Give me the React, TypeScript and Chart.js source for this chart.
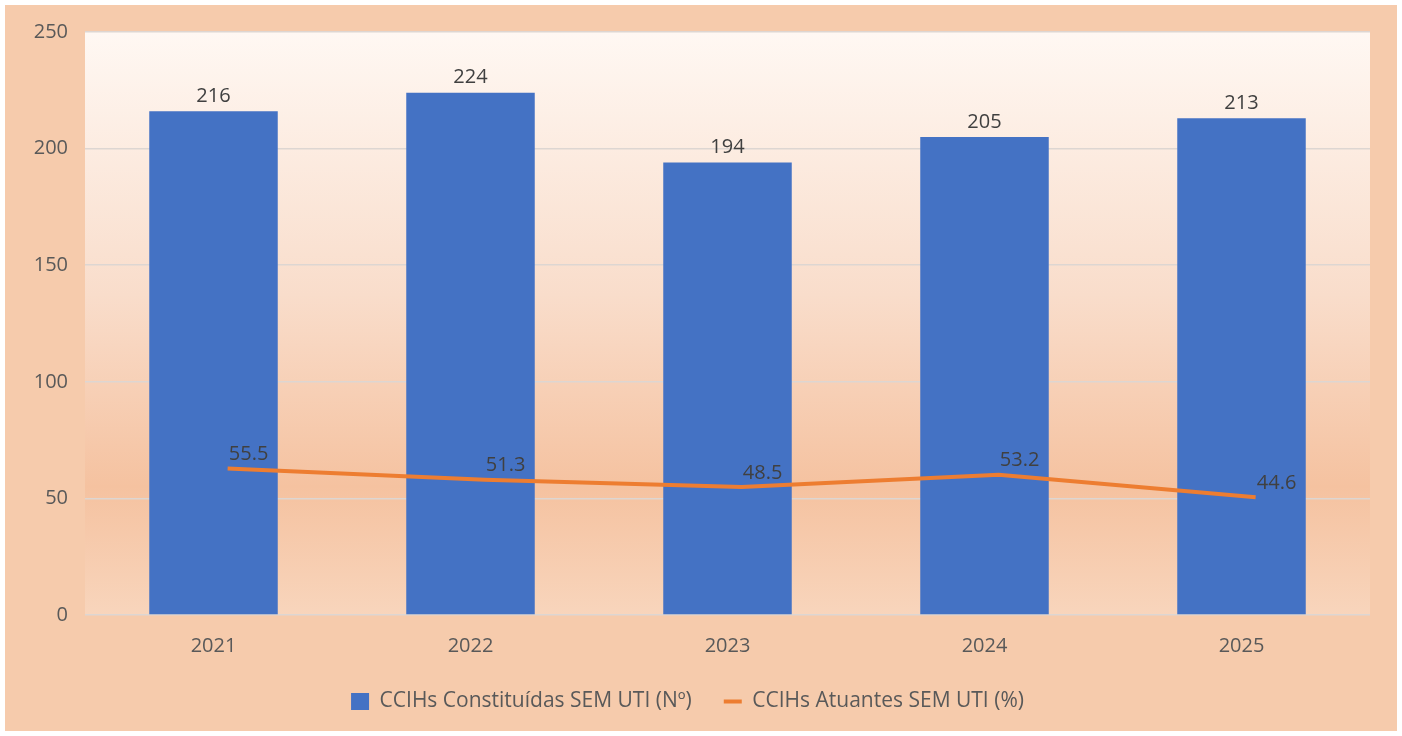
import React, { useEffect, useRef } from "react";
import { Chart, registerables } from "chart.js";

Chart.register(...registerables);

const categories = ["2021", "2022", "2023", "2024", "2025"];
const constituidas = [216, 224, 194, 205, 213];
const atuantes = [55.5, 51.3, 48.5, 53.2, 44.6];
const yTicks = [0, 50, 100, 150, 200, 250];
const seriesNames = ["CCIHs Constituídas SEM UTI (Nº)", "CCIHs Atuantes SEM UTI (%)"];

const FONT = "'Open Sans', sans-serif";

const bgPlugin = {
  id: "bgPlugin",
  beforeDraw(chart: any) {
    const { ctx, width, height, chartArea } = chart;
    ctx.save();
    ctx.fillStyle = "#ffffff";
    ctx.fillRect(0, 0, width, height);
    ctx.fillStyle = "#F6CBAC";
    ctx.fillRect(5, 5, width - 10, height - 10);
    const g = ctx.createLinearGradient(0, chartArea.top, 0, chartArea.bottom);
    g.addColorStop(0, "#FFF8F3");
    g.addColorStop(0.45, "#F9DDCB");
    g.addColorStop(0.78, "#F5C2A0");
    g.addColorStop(1, "#F8D5BC");
    ctx.fillStyle = g;
    ctx.fillRect(chartArea.left, chartArea.top, chartArea.right - chartArea.left, chartArea.bottom - chartArea.top);
    ctx.restore();
  },
};

const labelPlugin = {
  id: "labelPlugin",
  afterDatasetsDraw(chart: any) {
    const { ctx } = chart;
    ctx.save();
    ctx.font = `20px ${FONT}`;
    ctx.fillStyle = "#404040";
    ctx.textBaseline = "middle";
    const barMeta = chart.getDatasetMeta(0);
    ctx.textAlign = "center";
    barMeta.data.forEach((el: any, i: number) => {
      ctx.fillText(String(constituidas[i]), el.x, el.y - 15);
    });
    const lineMeta = chart.getDatasetMeta(1);
    lineMeta.data.forEach((el: any, i: number) => {
      ctx.fillText(atuantes[i].toFixed(1), el.x + 21, el.y - 14);
    });
    ctx.restore();
  },
};

export default function App() {
  const ref = useRef<HTMLCanvasElement>(null);
  useEffect(() => {
    document.body.style.margin = "0";
    const chart = new Chart(ref.current!, {
      type: "bar",
      data: {
        labels: categories,
        datasets: [
          {
            type: "bar",
            label: seriesNames[0],
            data: constituidas,
            backgroundColor: "#4472C4",
            barPercentage: 0.5,
            categoryPercentage: 1,
            grouped: false,
            order: 2,
            xAxisID: "x",
            yAxisID: "y",
          } as any,
          {
            type: "line",
            label: seriesNames[1],
            data: atuantes.map((v, i) => ({ x: i, y: v })),
            borderColor: "#ED7D31",
            backgroundColor: "#ED7D31",
            borderWidth: 4,
            pointRadius: 0,
            tension: 0,
            order: 1,
            xAxisID: "xLine",
            yAxisID: "y1",
          } as any,
        ],
      },
      options: {
        animation: false,
        responsive: false,
        layout: { padding: { left: 5, right: 32, top: 32, bottom: 14 } },
        scales: {
          x: {
            grid: { display: false, drawTicks: false },
            border: { display: false },
            ticks: { color: "#595959", font: { size: 20, family: FONT }, padding: 19 },
            afterFit: (s: any) => { s.height = 44; },
          },
          xLine: {
            type: "linear",
            display: false,
            offset: false,
            grid: { offset: false },
            min: -0.555,
            max: 4.445,
          },
          y: {
            min: 0,
            max: 250,
            afterBuildTicks: (s: any) => { s.ticks = yTicks.map((v) => ({ value: v })); },
            grid: { color: "#DDD6D2", lineWidth: 1.5, drawTicks: false },
            border: { display: false },
            ticks: { color: "#595959", font: { size: 20, family: FONT }, padding: 17 },
            afterFit: (s: any) => { s.width = 80; },
          },
          y1: {
            display: false,
            min: 0,
            max: 221,
          },
        },
        plugins: {
          legend: {
            position: "bottom",
            labels: {
              color: "#595959",
              font: { size: 21, family: FONT },
              usePointStyle: true,
              pointStyleWidth: 18,
              boxWidth: 18,
              boxHeight: 17,
              padding: 32,
              generateLabels: () => [
                { text: seriesNames[0], fillStyle: "#4472C4", strokeStyle: "#4472C4", lineWidth: 0, pointStyle: "rect", datasetIndex: 0, fontColor: "#595959" },
                { text: seriesNames[1], fillStyle: "#ED7D31", strokeStyle: "#ED7D31", lineWidth: 4, pointStyle: "line", datasetIndex: 1, fontColor: "#595959" },
              ],
            },
          },
          tooltip: { enabled: false },
        },
      } as any,
      plugins: [bgPlugin, labelPlugin],
    });
    return () => chart.destroy();
  }, []);
  return <canvas ref={ref} width={1402} height={736} style={{ display: "block" }} />;
}
